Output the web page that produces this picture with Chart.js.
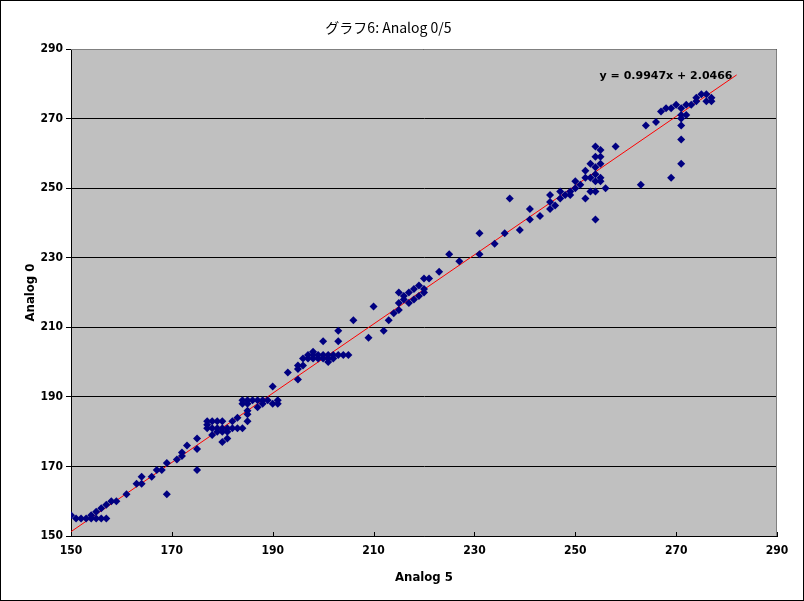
<!DOCTYPE html>
<html>
<head>
<meta charset="utf-8">
<script src="https://cdn.jsdelivr.net/npm/chart.js@4/dist/chart.umd.min.js"></script>
<style>
    html, body { margin: 0; padding: 0; background: #fff; }
    #wrap { width: 804px; height: 601px; }
</style>
</head>
<body>
<div id="wrap"><canvas id="chart" width="804" height="601"></canvas></div>
<script>
// Data
const xValues = [
    150, 151, 152, 153, 154, 154, 155, 156, 157, 155, 156, 157, 158, 159, 161, 163, 164, 164, 166, 167,
    168, 169, 169, 171, 172, 172, 173, 175, 175, 175, 177, 178, 179, 180, 177, 177, 178, 179, 180, 181,
    182, 183, 184, 182, 179, 180, 181, 180, 181, 178, 183, 185, 185, 185, 184, 185, 184, 185, 186, 187,
    188, 189, 191, 187, 188, 190, 191, 190, 193, 195, 195, 195, 196, 196, 197, 198, 199, 200, 201, 202,
    197, 198, 199, 200, 201, 202, 203, 204, 205, 198, 201, 200, 203, 203, 206, 209, 210, 212, 213, 214,
    215, 215, 215, 216, 217, 218, 219, 220, 216, 217, 218, 219, 220, 220, 221, 223, 225, 227, 231, 231,
    234, 236, 237, 239, 241, 241, 243, 245, 245, 245, 246, 247, 247, 248, 249, 249, 250, 250, 251, 252,
    252, 252, 253, 253, 253, 254, 254, 254, 254, 254, 254, 254, 255, 255, 255, 255, 255, 256, 258, 263,
    264, 266, 267, 268, 269, 270, 271, 272, 273, 274, 274, 275, 276, 276, 277, 277, 271, 272, 271, 271,
    271, 271, 269
];
const yValues = [
    156, 155, 155, 155, 156, 155, 155, 155, 155, 157, 158, 159, 160, 160, 162, 165, 165, 167, 167, 169,
    169, 171, 162, 172, 173, 174, 176, 178, 175, 169, 183, 183, 183, 183, 182, 181, 181, 181, 181, 181,
    181, 181, 181, 183, 180, 180, 180, 177, 178, 179, 184, 183, 185, 186, 188, 188, 189, 189, 189, 189,
    189, 189, 189, 187, 188, 188, 188, 193, 197, 195, 198, 199, 199, 201, 201, 201, 201, 201, 201, 201,
    202, 202, 202, 202, 202, 202, 202, 202, 202, 203, 200, 206, 206, 209, 212, 207, 216, 209, 212, 214,
    215, 217, 220, 219, 220, 221, 222, 221, 218, 217, 218, 219, 220, 224, 224, 226, 231, 229, 231, 237,
    234, 237, 247, 238, 241, 244, 242, 244, 246, 248, 245, 247, 249, 248, 248, 249, 250, 252, 251, 247,
    253, 255, 249, 253, 257, 249, 252, 254, 256, 259, 262, 241, 253, 252, 257, 259, 261, 250, 262, 251,
    268, 269, 272, 273, 273, 274, 273, 274, 274, 275, 276, 277, 277, 275, 276, 275, 271, 271, 270, 268,
    264, 257, 253
];

// Trendline shown on the chart: y = 0.9947x + 2.0466
const trendSlope = 0.9947;
const trendIntercept = 2.0466;
const trendX = [150, 282];

const axisTicks = [150, 170, 190, 210, 230, 250, 270, 290];

const tickFont = { family: '"Liberation Sans Narrow", "DejaVu Sans Condensed", sans-serif', size: 12, weight: 'bold' };
const titleFont = { family: '"Liberation Sans Narrow", "DejaVu Sans Condensed", sans-serif', size: 13, weight: 'bold' };

const points = xValues.map((x, i) => ({ x: x, y: yValues[i] }));
const trendPoints = trendX.map(x => ({ x: x, y: trendSlope * x + trendIntercept }));

// Фон области построения, рамка и подпись уравнения
const excelLook = {
    id: 'excelLook',
    beforeDraw(chart) {
        const { ctx, chartArea: a } = chart;
        ctx.save();
        ctx.fillStyle = '#ffffff';
        ctx.fillRect(0, 0, chart.width, chart.height);
        ctx.fillStyle = '#c0c0c0';
        ctx.fillRect(a.left, a.top, a.right - a.left, a.bottom - a.top);
        ctx.restore();
    },
    afterDatasetsDraw(chart) {
        const { ctx, chartArea: a, scales } = chart;
        ctx.save();
        // серая рамка сверху и справа
        ctx.strokeStyle = '#808080';
        ctx.lineWidth = 1;
        ctx.beginPath();
        ctx.moveTo(a.left, a.top + 0.5);
        ctx.lineTo(a.right - 0.5, a.top + 0.5);
        ctx.lineTo(a.right - 0.5, a.bottom);
        ctx.stroke();
        // короткие засечки по оси X внутрь
        ctx.strokeStyle = '#000';
        axisTicks.forEach(v => {
            const px = Math.round(scales.x.getPixelForValue(v)) + 0.5;
            ctx.beginPath();
            ctx.moveTo(px, a.bottom);
            ctx.lineTo(px, a.bottom - 4);
            ctx.stroke();
        });
        // уравнение тренда
        ctx.fillStyle = '#000';
        ctx.font = 'bold 11px "DejaVu Sans", sans-serif';
        ctx.textAlign = 'center';
        ctx.textBaseline = 'middle';
        ctx.fillText('y = 0.9947x + 2.0466', scales.x.getPixelForValue(268), scales.y.getPixelForValue(282.2));
        // рамка всей картинки
        ctx.strokeStyle = '#000';
        ctx.strokeRect(0.5, 0.5, chart.width - 1, chart.height - 1);
        ctx.restore();
    }
};

new Chart(document.getElementById('chart'), {
    type: 'scatter',
    data: {
        datasets: [{
            label: 'Analog 0',
            data: points,
            pointStyle: 'rectRot',
            pointRadius: 4,
            backgroundColor: '#000080',
            borderColor: '#000080',
            borderWidth: 0
        }, {
            type: 'line',
            label: 'trend',
            data: trendPoints,
            borderColor: '#ff0000',
            borderWidth: 1,
            pointRadius: 0,
            fill: false
        }]
    },
    options: {
        responsive: false,
        animation: false,
        layout: { padding: { left: 0, right: 27, top: 0, bottom: 0 } },
        plugins: {
            legend: { display: false },
            tooltip: { enabled: false },
            title: {
                display: true,
                text: 'グラフ6: Analog 0/5',
                color: '#000',
                font: { family: '"Noto Sans CJK JP", sans-serif', size: 14, weight: 'normal' },
                padding: { top: 19.5, bottom: 12.7 }
            }
        },
        scales: {
            x: {
                type: 'linear',
                min: 150,
                max: 290,
                afterBuildTicks(scale) { scale.ticks = axisTicks.map(v => ({ value: v })); },
                afterFit(scale) { scale.height = 65; },
                grid: { drawOnChartArea: false, drawTicks: false, tickLength: 0 },
                border: { color: '#000', width: 1 },
                ticks: { color: '#000', font: tickFont, padding: 8, maxRotation: 0 },
                title: { display: true, text: 'Analog 5', color: '#000', font: titleFont, padding: { top: 0, bottom: 16 } }
            },
            y: {
                type: 'linear',
                min: 150,
                max: 290,
                afterBuildTicks(scale) { scale.ticks = axisTicks.map(v => ({ value: v })); },
                afterFit(scale) { scale.width = 71; },
                grid: { color: '#000', lineWidth: 1, tickLength: 5, drawTicks: true },
                border: { color: '#000', width: 1 },
                ticks: { color: '#000', font: tickFont, padding: 3 },
                title: { display: true, text: 'Analog 0', color: '#000', font: titleFont, padding: { top: 23, bottom: 0 } }
            }
        }
    },
    plugins: [excelLook]
});
</script>
</body>
</html>
